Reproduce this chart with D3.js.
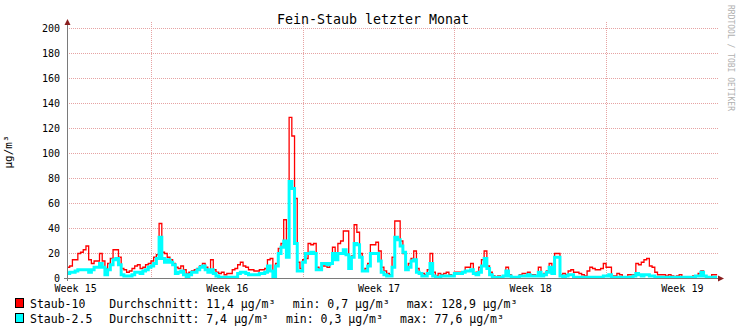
<!DOCTYPE html>
<html><head><meta charset="utf-8">
<script src="https://cdn.jsdelivr.net/npm/d3@7/dist/d3.min.js"></script>
<style>
html,body{margin:0;padding:0;background:#fff;}
svg{display:block;font-family:"DejaVu Sans Mono",monospace;}
text{white-space:pre;}
</style></head><body>
<svg id="chart" width="747" height="332"></svg>
<script>
// ---- data ----
const title = "Fein-Staub letzter Monat";
const yLabel = "µg/m³";
const watermark = "RRDTOOL / TOBI OETIKER";
const startISO = "2017-04-13T03:00:00Z";   // first sample
const stepHours = 3;
const spanHours = 721;
const yTicks = [0, 20, 40, 60, 80, 100, 120, 140, 160, 180, 200];
const seriesNames = ["Staub-10", "Staub-2.5"];
const seriesColors = ["#ff0000", "#00ffff"];
const legendAvg = ["Durchschnitt: 11,4 µg/m³", "Durchschnitt: 7,4 µg/m³"];
const legendMin = ["min: 0,7 µg/m³", "min: 0,3 µg/m³"];
const legendMax = ["max: 128,9 µg/m³", "max: 77,6 µg/m³"];

const staub10 = [
 9,10,15,15,20,21,23,26,15,12,
 14,14,20,14,8,12,16,23,23,17,
 8,7,5,6,8,10,11,8,9,11,
 12,14,17,19,44,21,20,17,15,12,
 9,8,10,7,4,5,6,7,8,10,
 12,9,7,15,7,5,4,5,3,4,
 4,7,8,11,13,10,9,7,7,6,
 6,7,7,8,15,16,4,12,24,28,
 47,22,128.9,114,64,13,8,15,16,28,
 27,28,9,8,10,10,9,12,25,17,
 28,30,38,38,12,18,43,37,20,6,
 8,12,27,27,29,22,9,6,4,3,
 17,46,46,30,20,8,12,16,22,8,
 4,4,3,7,20,5,2,4,3,4,
 5,3,2,5,5,5,5,9,9,12,
 4,5,9,15,22,10,5,2,1,2,
 1,2,9,3,1,1,0.7,3,4,4,
 5,3,3,2,9,2,4,6,12,5,
 20,20,3,4,3,6,7,5,5,4,
 3,2,6,9,8,7,7,8,12,9,
 9,2,2,4,3,1,1,3,3,3,
 12,11,13,15,16,10,9,5,3,3,
 3,2,3,2,1,2,3,1,1,1,
 1,2,2,4,6,2,1,1,3,3
];
const staub25 = [
 4,5,5,6,7,7,7,7,5,7,
 9,9,12,9,3,7,11,15,16,11,
 3,2,2,2,3,5,5,4,6,7,
 9,10,12,16,33,16,13,15,13,11,
 4,5,6,3,1,3,5,5,7,9,
 10,7,5,7,4,2,1,1,1,1,
 1,1,1,4,5,5,4,3,3,3,
 3,4,4,5,10,6,1,10,20,25,
 30,17,77.6,72,28,6,6,13,20,20,
 21,20,7,7,12,12,11,12,20,15,
 20,20,23,19,8,17,28,27,17,6,
 6,10,20,20,20,14,5,3,2,2,
 9,33,31,26,21,7,9,14,15,5,
 4,2,2,4,12,2,1,1,2,2,
 2,2,2,4,4,4,5,6,6,7,
 4,3,5,10,16,8,3,1,1,1,
 1,2,6,2,1,1,1,2,2,2,
 3,2,2,2,5,2,3,5,9,4,
 17,17,2,1,2,3,3,1,1,1,
 1,1,1,1,1,1,1,1,2,2,
 3,1,1,1,1,1,1,1,1,2,
 4,3,2,3,3,2,2,1,1,1,
 1,1,1,1,1,1,1,1,1,1,
 1,1,2,2,5,2,1,1,1,1
];

// ---- layout ----
const H = 3600e3;
const t0 = new Date(startISO);
const t1 = new Date(+t0 + spanHours * H);
const svg = d3.select("#chart");
const x = d3.scaleUtc().domain([t0, t1]).range([67, 718]);
const y = d3.scaleLinear().domain([0, 200]).range([278.5, 28.5]);

const gridColor = "#e6a3a3";

// horizontal grid
svg.append("g").selectAll("line").data(yTicks.filter(d => d > 0)).join("line")
  .attr("x1", 67).attr("x2", 718)
  .attr("y1", d => y(d)).attr("y2", d => y(d))
  .attr("stroke", gridColor).attr("stroke-dasharray", "1,1")
  .attr("shape-rendering", "crispEdges");

// vertical grid (Mondays)
const mondays = d3.utcMonday.range(t0, t1);
svg.append("g").selectAll("line").data(mondays).join("line")
  .attr("x1", d => Math.round(x(d)) + 0.5).attr("x2", d => Math.round(x(d)) + 0.5)
  .attr("y1", 22).attr("y2", 278)
  .attr("stroke", gridColor).attr("stroke-dasharray", "1,1")
  .attr("shape-rendering", "crispEdges");

// series
function pts(arr) {
  const p = arr.map((v, i) => ({t: new Date(+t0 + i * stepHours * H), v}));
  p.push({t: new Date(+t0 + arr.length * stepHours * H), v: arr[arr.length - 1]});
  return p;
}
const line = d3.line().x(d => x(d.t)).y(d => y(d.v)).curve(d3.curveStepAfter);
svg.append("path").datum(pts(staub10)).attr("d", line)
  .attr("fill", "none").attr("stroke", seriesColors[0]).attr("stroke-width", 1.3);
svg.append("path").datum(pts(staub25)).attr("d", line)
  .attr("fill", "none").attr("stroke", seriesColors[1]).attr("stroke-width", 3);

// axes lines
const axisColor = "#7a7a7a", arrowColor = "#8a1f1f";
svg.append("line").attr("x1", 64).attr("x2", 719).attr("y1", 278.5).attr("y2", 278.5)
  .attr("stroke", axisColor).attr("stroke-width", 1);
svg.append("line").attr("x1", 67.5).attr("x2", 67.5).attr("y1", 281).attr("y2", 24)
  .attr("stroke", axisColor).attr("stroke-width", 1);
svg.append("path").attr("d", "M718,275.5 L724,278.5 L718,281.5 Z").attr("fill", arrowColor);
svg.append("path").attr("d", "M64.5,25 L67.5,19 L70.5,25 Z").attr("fill", arrowColor);

// y axis labels
const yAxis = d3.axisLeft(y).tickValues(yTicks).tickSize(0).tickPadding(7).tickFormat(d3.format("d"));
const gy = svg.append("g").attr("transform", "translate(67,0)").call(yAxis);
gy.select(".domain").remove();
gy.selectAll("text").attr("font-family", "DejaVu Sans Mono").attr("font-size", 10).attr("fill", "#000");

// x axis labels (centered in each week)
const weekMids = d3.utcMonday.range(d3.utcMonday.floor(t0), t1)
  .map(d => new Date(+d + 84 * H)).filter(d => d >= t0 && d <= t1);
const xAxis = d3.axisBottom(x).tickValues(weekMids).tickSize(0).tickPadding(6)
  .tickFormat(d => "Week " + d3.utcFormat("%V")(new Date(+d - 84 * H)));
const gx = svg.append("g").attr("transform", "translate(0,278.5)").call(xAxis);
gx.select(".domain").remove();
gx.selectAll("text").attr("font-family", "DejaVu Sans Mono").attr("font-size", 10).attr("fill", "#000");

// title
svg.append("text").attr("x", 373).attr("y", 24).attr("text-anchor", "middle")
  .attr("font-size", 13.3).attr("fill", "#000").text(title);

// y label
svg.append("text").attr("transform", "translate(12,152) rotate(-90)").attr("text-anchor", "middle")
  .attr("font-size", 11).attr("fill", "#000").text(yLabel);

// watermark
svg.append("text").attr("transform", "translate(728,5) rotate(90)")
  .attr("font-size", 8).attr("fill", "#b0b0b0").text(watermark);

// legend
const legY = [308, 323];
const avgX = [109.3, 109.3], minX = [292.7, 286], maxX = [406.7, 400];
seriesNames.forEach((name, i) => {
  svg.append("rect").attr("x", 15.5).attr("y", legY[i] - 9.5).attr("width", 8).attr("height", 9)
    .attr("fill", seriesColors[i]).attr("stroke", "#000").attr("stroke-width", 1);
  const g = svg.append("g").attr("font-size", 11.5).attr("fill", "#000");
  g.append("text").attr("x", 30).attr("y", legY[i]).text(name);
  g.append("text").attr("x", avgX[i]).attr("y", legY[i]).text(legendAvg[i]);
  g.append("text").attr("x", minX[i]).attr("y", legY[i]).text(legendMin[i]);
  g.append("text").attr("x", maxX[i]).attr("y", legY[i]).text(legendMax[i]);
});
</script>
</body></html>
